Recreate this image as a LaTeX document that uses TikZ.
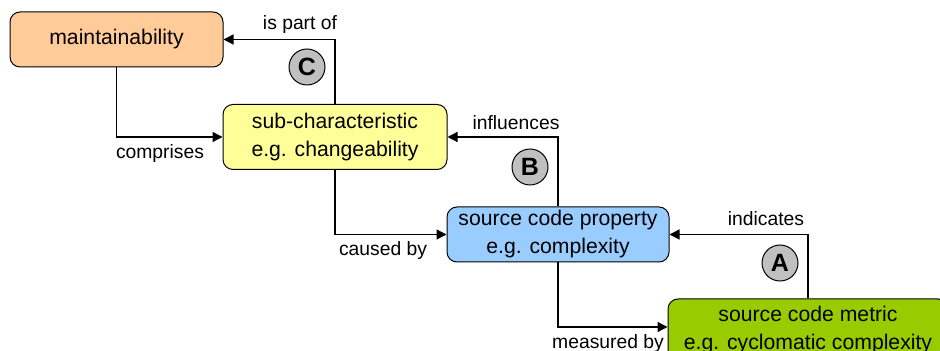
\documentclass[tikz,border=0pt]{standalone}
\usepackage{fontspec}
\setmainfont{Liberation Sans}
\usetikzlibrary{arrows.meta}
\definecolor{cOrange}{HTML}{FFCC99}
\definecolor{cYellow}{HTML}{FFFF99}
\definecolor{cBlue}{HTML}{99CCFF}
\definecolor{cGreen}{HTML}{99CC00}
\definecolor{cMark}{HTML}{C0C0C0}
\tikzset{
  box/.style={draw=black, line width=0.5pt, rounded corners=5pt, align=center,
    inner sep=0pt, font=\fontsize{10.6}{14}\selectfont},
  rel/.style={line width=0.65pt, -{Triangle[length=5pt,width=5pt]}},
  lbl/.style={inner sep=0pt, font=\fontsize{9.65}{11.6}\selectfont},
  tagcircle/.style={circle, draw=black, line width=0.5pt, fill=cMark, minimum size=18pt,
    inner sep=0pt, font=\fontsize{12.5}{12.5}\bfseries\selectfont}
}
\begin{document}
\begin{tikzpicture}[x=0.5pt, y=-0.5pt]
\useasboundingbox (0,0) rectangle (940,351);
\clip (0,0) rectangle (940,351);
% concept boxes
\node[box, fill=cOrange, minimum width=106.5pt, minimum height=27.5pt] (maint) at (116.5,39.5) {maintainability};
\node[box, fill=cYellow, minimum width=112pt, minimum height=32.5pt] (sub) at (335,137) {sub-characteristic\\e.g. changeability};
\node[box, fill=cBlue, minimum width=111pt, minimum height=27.5pt] (prop) at (558,234.5) {source code property\\e.g. complexity};
\node[box, fill=cGreen, minimum width=140pt, minimum height=31pt] (metric) at (808,330) {source code metric\\e.g. cyclomatic complexity};
% relations
\draw[rel] (maint) |- (sub);
\draw[rel] (sub) |- (maint);
\draw[rel] (sub) |- (prop);
\draw[rel] (prop) |- (sub);
\draw[rel] (prop) |- ([yshift=1.5pt]metric.west);
\draw[rel] (metric) |- (prop);
% relation labels
\node[lbl] (lPart) at (300,25) {is part of};
\node[lbl] (lComp) at (160,154) {comprises};
\node[lbl] (lInfl) at (516,123) {influences};
\node[lbl] (lCaus) at (383,251) {caused by};
\node[lbl] (lInd) at (766,219) {indicates};
\node[lbl] (lMeas) at (608,344) {measured by};
% markers
\node[tagcircle] (mC) at (307,67) {C};
\node[tagcircle] (mB) at (530,167) {B};
\node[tagcircle] (mA) at (780,263) {A};
\end{tikzpicture}
\end{document}
